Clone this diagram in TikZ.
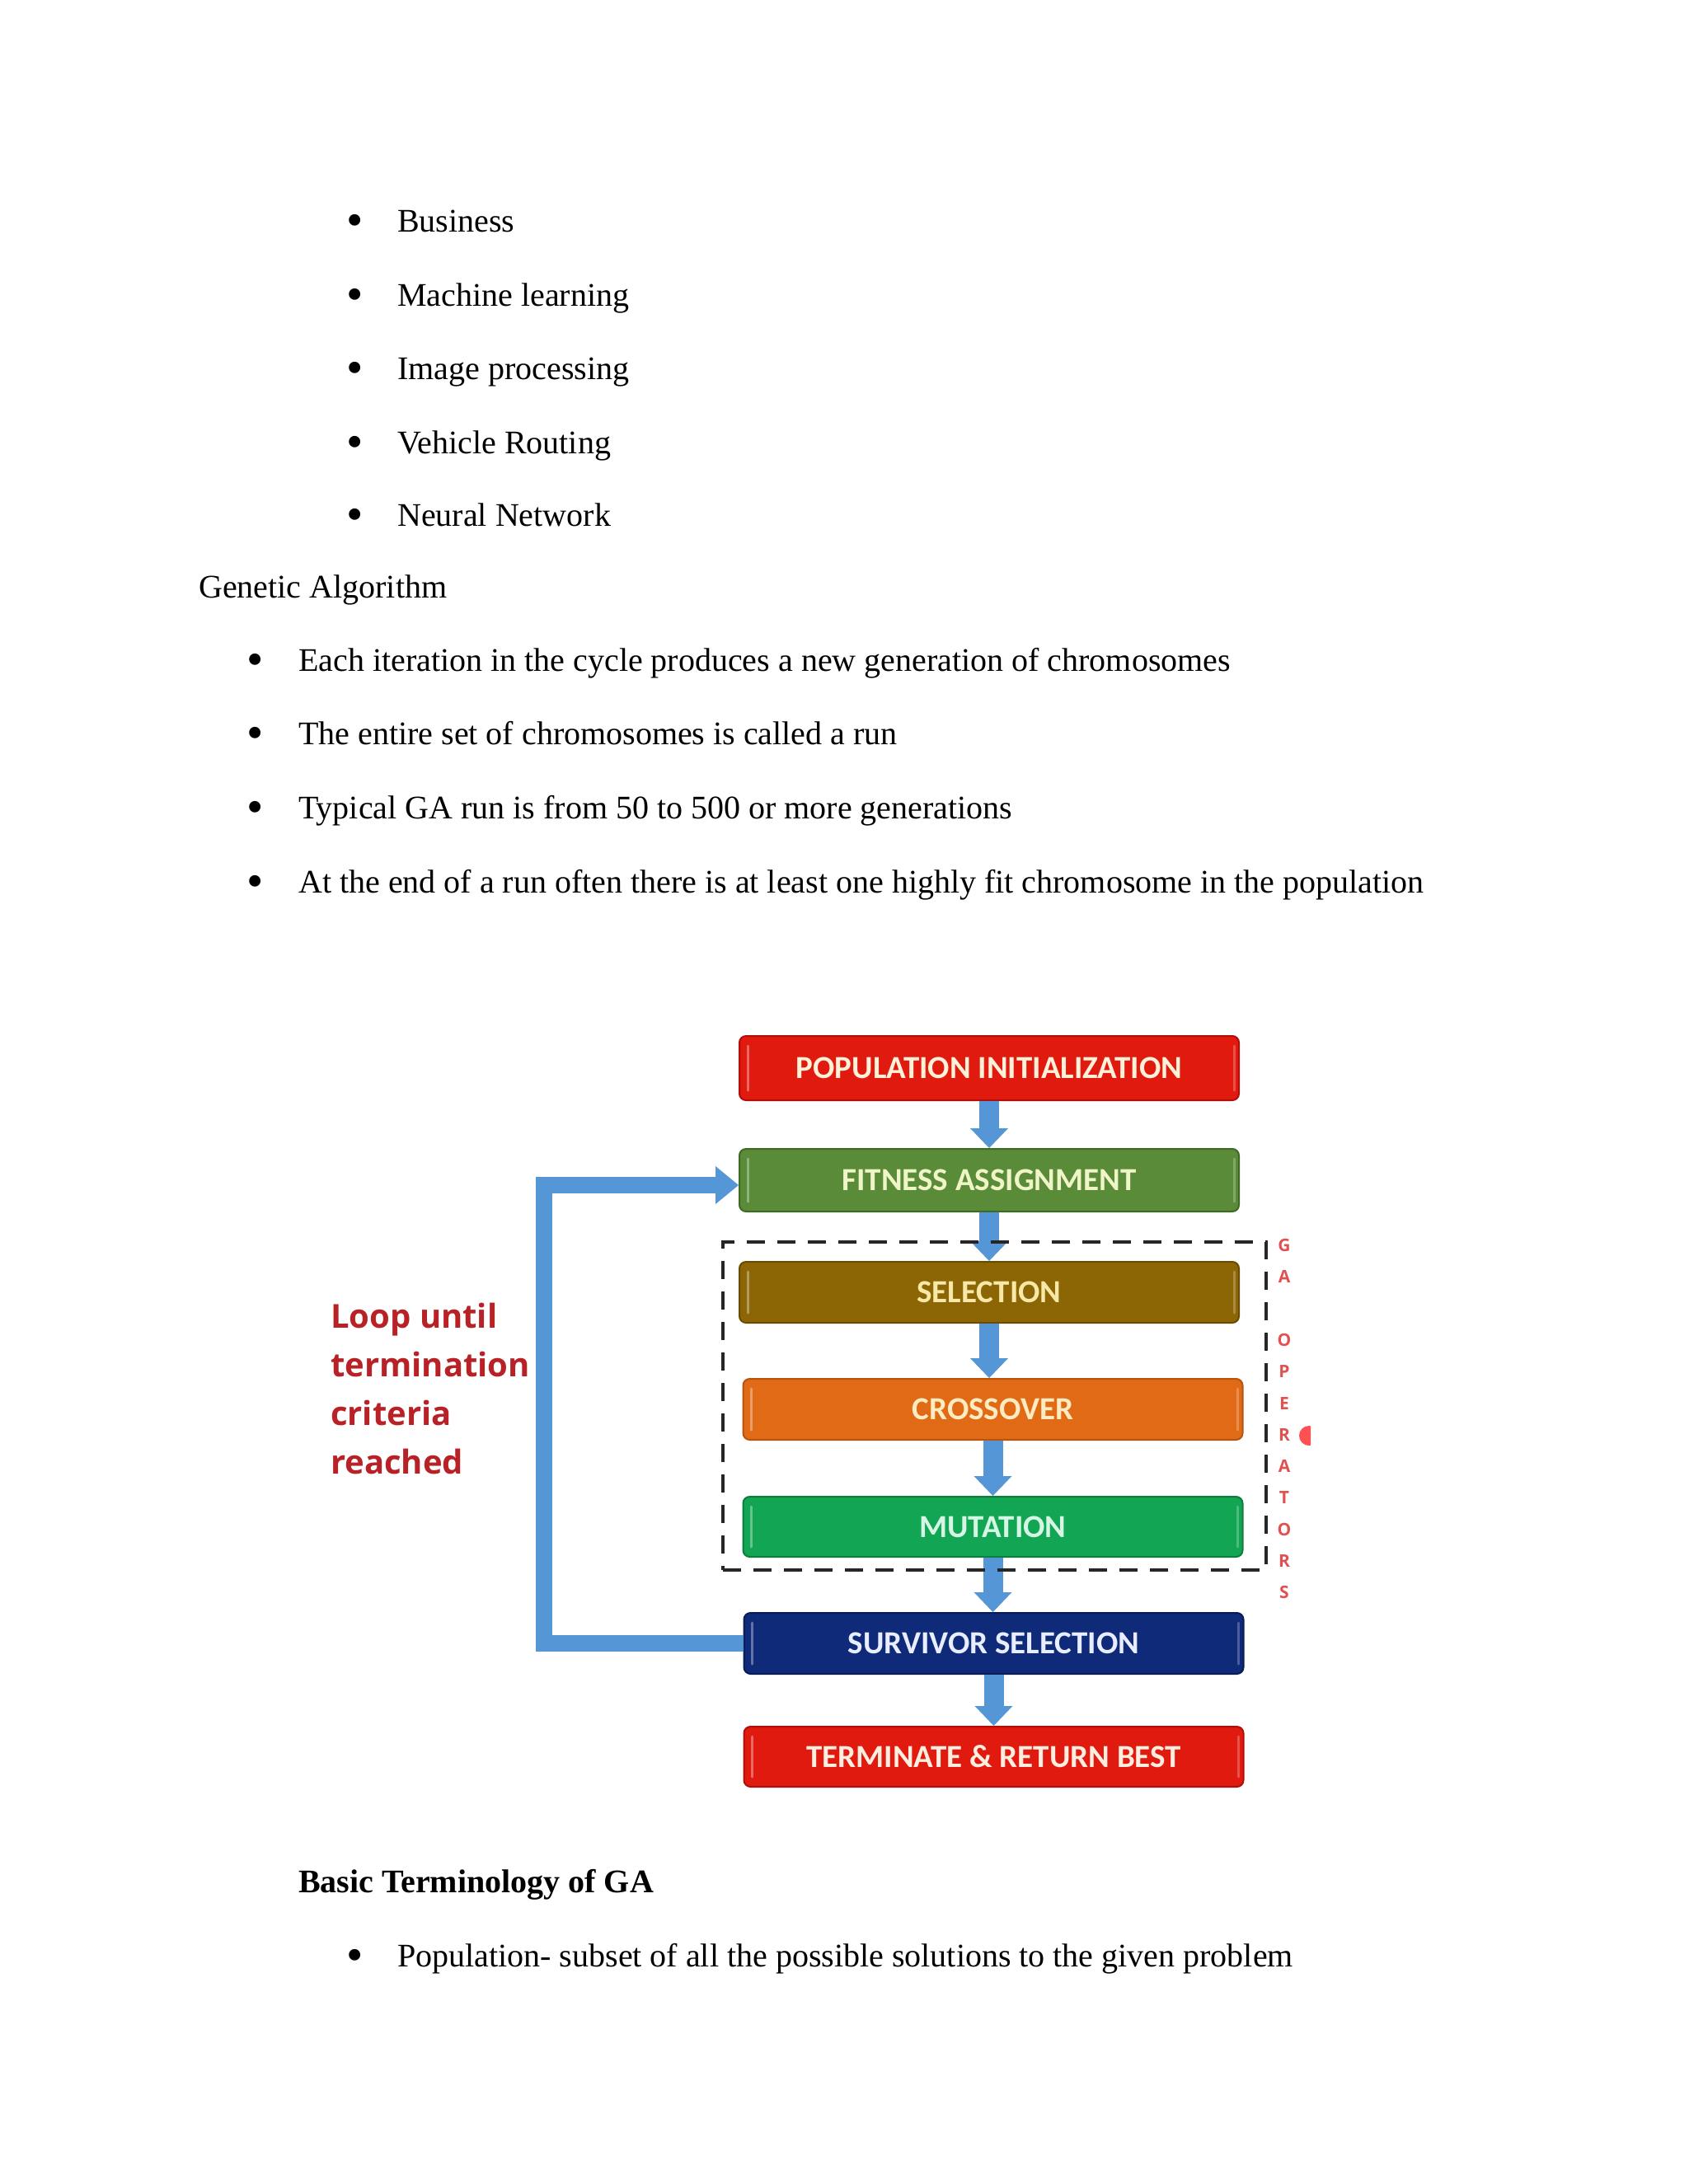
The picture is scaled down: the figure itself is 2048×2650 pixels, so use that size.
\documentclass[tikz,border=0pt]{standalone}
\usepackage{fontspec}
\setmainfont{Liberation Serif}
\newfontfamily\boxfont{Carlito}
\newfontfamily\loopfont{Open Sans}
\usetikzlibrary{arrows.meta}
\definecolor{popred}{HTML}{E01A0E}\definecolor{popredd}{HTML}{B01008}\definecolor{poptxt}{HTML}{FFF0D8}
\definecolor{fitgreen}{HTML}{5A8B38}\definecolor{fitgreend}{HTML}{3F6A25}\definecolor{fittxt}{HTML}{F0F5C8}
\definecolor{selbrown}{HTML}{8C6604}\definecolor{selbrownd}{HTML}{6A4C00}\definecolor{seltxt}{HTML}{F8E8A8}
\definecolor{crossor}{HTML}{E06A16}\definecolor{crossord}{HTML}{B85410}\definecolor{crosstxt}{HTML}{FFEBC0}
\definecolor{mutgreen}{HTML}{12A553}\definecolor{mutgreend}{HTML}{0C7F3E}\definecolor{muttxt}{HTML}{D5F5E5}
\definecolor{survblue}{HTML}{0E2A78}\definecolor{survblued}{HTML}{081C55}\definecolor{survtxt}{HTML}{E8EEFF}
\definecolor{termtxt}{HTML}{FFEDE0}
\definecolor{arrowblue}{HTML}{5596D7}
\definecolor{loopred}{HTML}{B82226}
\definecolor{gared}{HTML}{E05252}
\begin{document}
\begin{tikzpicture}[x=1pt,y=-1pt,
  txt/.style={anchor=base west, inner sep=0pt, font=\fontsize{40}{48}\selectfont},
  bul/.style={anchor=base, inner sep=0pt, yshift=-5pt, font=\fontsize{58}{60}\selectfont},
  stage/.style={rounded corners=8pt, minimum width=606pt, minimum height=75pt, inner sep=0pt, line width=2pt, font=\boxfont\bfseries\fontsize{39}{44}\selectfont},
  flow/.style={draw=arrowblue, line width=24pt, -{Triangle[width=46pt,length=24pt,line width=0pt]}},
  loopline/.style={draw=arrowblue, line width=20pt, -{Triangle[width=46pt,length=28pt,line width=0pt]}},
  looptxt/.style={anchor=base west, inner sep=0pt, text=loopred, font=\loopfont\bfseries\fontsize{40}{48}\selectfont},
  gaop/.style={inner sep=0pt, text=gared, font=\loopfont\bfseries\fontsize{21}{24}\selectfont},
  gloss/.style={white, opacity=0.35, line width=3pt, line cap=round}
]
\useasboundingbox[fill=white] (0,0) rectangle (2048,2650);

% ---- text above ----
\node[bul] (u1) at (431,281) {•}; \node[txt] (a1) at (482,281) {Business};
\node[bul] (u2) at (431,371) {•}; \node[txt] (a2) at (482,371) {Machine learning};
\node[bul] (u3) at (431,460) {•}; \node[txt] (a3) at (482,460) {Image processing};
\node[bul] (u4) at (431,550) {•}; \node[txt] (a4) at (482,550) {Vehicle Routing};
\node[bul] (u5) at (431,638) {•}; \node[txt] (a5) at (482,638) {Neural Network};
\node[txt] (ga) at (241,725) {Genetic Algorithm};
\node[bul] (v1) at (310,814) {•}; \node[txt] (c1) at (362,814) {Each iteration in the cycle produces a new generation of chromosomes};
\node[bul] (v2) at (310,903) {•}; \node[txt] (c2) at (362,903) {The entire set of chromosomes is called a run};
\node[bul] (v3) at (310,993) {•}; \node[txt] (c3) at (362,993) {Typical GA run is from 50 to 500 or more generations};
\node[bul] (v4) at (310,1083) {•}; \node[txt] (c4) at (362,1083) {At the end of a run often there is at least one highly fit chromosome in the population};

% ---- flowchart boxes ----
\node[stage, fill=popred, draw=popredd, text=poptxt, minimum height=78pt] (pop) at (1200,1296) {POPULATION INITIALIZATION};
\node[stage, fill=fitgreen, draw=fitgreend, text=fittxt, minimum height=76pt] (fit) at (1200,1432) {FITNESS ASSIGNMENT};
\node[stage, fill=selbrown, draw=selbrownd, text=seltxt, minimum height=74pt] (sel) at (1200,1568) {SELECTION};
\node[stage, fill=crossor, draw=crossord, text=crosstxt, minimum height=74pt] (cross) at (1204.5,1710) {CROSSOVER};
\node[stage, fill=mutgreen, draw=mutgreend, text=muttxt, minimum height=73pt] (mut) at (1204.5,1852.5) {MUTATION};
\node[stage, fill=survblue, draw=survblued, text=survtxt, minimum height=74pt] (surv) at (1205.5,1994) {SURVIVOR SELECTION};
\node[stage, fill=popred, draw=popredd, text=termtxt, minimum height=73pt] (term) at (1205.5,2131.5) {TERMINATE \& RETURN BEST};

\foreach \b in {pop,fit,sel,cross,mut,surv,term}{
  \draw[gloss] ([xshift=11pt,yshift=-13pt]\b.north west) -- ([xshift=11pt,yshift=13pt]\b.south west);
  \draw[gloss, opacity=0.25] ([xshift=-7pt,yshift=-13pt]\b.north east) -- ([xshift=-7pt,yshift=13pt]\b.south east);
}

% ---- arrows ----
\draw[flow] (pop.south) -- (fit.north);
\draw[flow] (fit.south) -- (sel.north);
\draw[flow] (sel.south) -- (sel.south |- cross.north);
\draw[flow] (cross.south) -- (mut.north);
\draw[flow] (mut.south) -- (mut.south |- surv.north);
\draw[flow] (surv.south) -- (term.north);
\draw[loopline] (surv.west) -- ++(-242,0) |- ([yshift=-6pt]fit.west);

% ---- GA operators group ----
\node[draw=black!85, line width=4pt, dash pattern=on 22pt off 15pt, minimum width=659pt, minimum height=398pt, inner sep=0pt] (ops) at (1206.5,1706) {};
\foreach \l [count=\i from 0] in {G,A,{},O,P,E,R,A,T,O,R,S}{
  \node[gaop] (op\i) at (1558,1511+38.3*\i) {\l};
}
\begin{scope}
  \clip (1570,1720) rectangle (1590,1765);
  \fill[red!85!white, opacity=0.8] (1588,1742) circle (12pt);
\end{scope}

% ---- loop label ----
\node[looptxt] (l1) at (401,1611) {Loop until};
\node[looptxt] (l2) at (401,1670) {termination};
\node[looptxt] (l3) at (401,1729) {criteria};
\node[looptxt] (l4) at (401,1788) {reached};

% ---- text below ----
\node[txt, font=\fontsize{40}{48}\selectfont\bfseries] (bt) at (362,2296) {Basic Terminology of GA};
\node[bul] (w1) at (431,2386) {•}; \node[txt] (d1) at (482,2386) {Population- subset of all the possible solutions to the given problem};
\end{tikzpicture}
\end{document}
